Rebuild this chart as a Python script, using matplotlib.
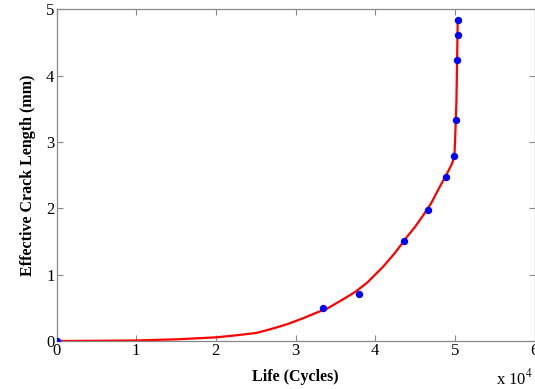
import matplotlib
matplotlib.use("Agg")
import matplotlib.pyplot as plt

# Measured crack lengths
life_meas = [0.0, 3.339, 3.797, 4.36, 4.66, 4.885, 4.99, 5.018, 5.026, 5.036, 5.034]  # x 10^4 cycles
crack_meas = [0.0, 0.50, 0.71, 1.51, 1.97, 2.47, 2.79, 3.33, 4.23, 4.61, 4.84]        # mm

# Predicted crack growth curve
life_pred = [0.0, 0.5, 1.0, 1.5, 2.0, 2.25, 2.5, 2.6, 2.75, 2.9, 3.0, 3.1, 3.25, 3.4,
             3.5, 3.6, 3.75, 3.9, 4.0, 4.1, 4.25, 4.4, 4.5, 4.6, 4.65, 4.7, 4.8, 4.85,
             4.9, 4.96, 4.975, 4.99, 4.997, 5.003, 5.01, 5.02, 5.028, 5.033, 5.036]
crack_pred = [0.0, 0.003, 0.008, 0.025, 0.055, 0.085, 0.12, 0.15, 0.20, 0.255, 0.30, 0.345,
              0.42, 0.49, 0.56, 0.63, 0.74, 0.88, 1.00, 1.12, 1.33, 1.57, 1.72, 1.89,
              1.98, 2.07, 2.30, 2.41, 2.52, 2.66, 2.71, 2.77, 2.85, 3.02, 3.25, 3.62,
              4.20, 4.58, 4.85]

xticks = [0, 1, 2, 3, 4, 5, 6]
yticks = [0, 1, 2, 3, 4, 5]

plt.rcParams["font.family"] = ["Liberation Serif", "DejaVu Serif"]

W, H = 535, 389
fig = plt.figure(figsize=(W / 100, H / 100), dpi=100)
left, right, top, bottom = 56.5, 534.5, 9.3, 341.0
ax = fig.add_axes([left / W, 1 - bottom / H, (right - left) / W, (bottom - top) / H])

ax.plot(life_pred, crack_pred, color="#ff0000", lw=1.6, zorder=2,
        solid_joinstyle="round", solid_capstyle="round")
ax.plot(life_meas, crack_meas, "o", color="#0000ff", ms=4.3, zorder=3)

ax.set_xlim(0, 6)
ax.set_ylim(0, 5)
ax.set_xticks(xticks)
ax.set_yticks(yticks)
ax.tick_params(direction="in", top=True, right=True, length=4, width=0.8,
               color="#888888", labelsize=12, pad=1.5)
for s in ax.spines.values():
    s.set_color("#888888")
    s.set_linewidth(0.9)

ax.set_xlabel("Life (Cycles)", fontsize=11.5, fontweight="bold", labelpad=7)
ax.set_ylabel("Effective Crack Length (mm)", fontsize=11.5, fontweight="bold", labelpad=7)
fig.text(533 / W, 1 - 378 / H, r"x 10$^4$", ha="right", va="center", fontsize=12,
         math_fontfamily="stix")

fig.savefig("out.png", dpi=100)
